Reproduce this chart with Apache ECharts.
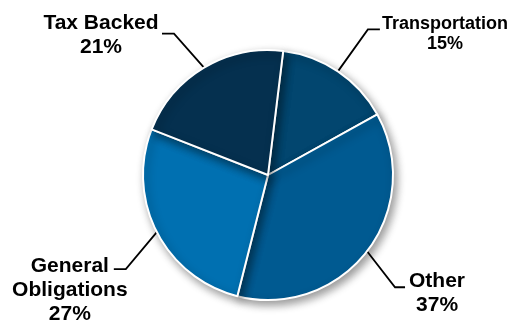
<!DOCTYPE html>
<html><head><meta charset="utf-8">
<script src="https://cdn.jsdelivr.net/npm/echarts@6/dist/echarts.min.js"></script>
<style>html,body{margin:0;padding:0;background:#fff}#c{width:512px;height:325px}</style>
</head><body><div id="c"></div>
<script>
const categories = ['Transportation', 'Other', 'General Obligations', 'Tax Backed'];
const labelNames = ['Transportation', 'Other', 'General\nObligations', 'Tax Backed'];
const values = [15, 37, 27, 21];
const colors = ['#02466f', '#005a91', '#0070b1', '#05304f'];

// per-label layout tweaks (leader-line vector, horizontal tail, label centre offset from tail end)
const lineVec = [[30, -42], [28, 36], [-31, 37], [-30, -34]];
const tailLen = [12, 10, 12, 12];
const labelOff = [[65, 5], [32, 6], [-44, 21], [-61, 2]];
const richKey = ['s', 'b', 'b', 'b'];

const chart = echarts.init(document.getElementById('c'), null, {renderer: 'canvas'});
chart.setOption({
  animation: false,
  backgroundColor: '#fff',
  series: [{
    type: 'pie',
    center: [268, 175],
    radius: 125,
    startAngle: 83,
    clockwise: true,
    avoidLabelOverlap: false,
    data: categories.map((c, i) => ({name: c, value: values[i], itemStyle: {color: colors[i]}})),
    itemStyle: {
      borderColor: '#fff',
      borderWidth: 2,
      shadowBlur: 8,
      shadowOffsetX: 3,
      shadowOffsetY: 4,
      shadowColor: 'rgba(0,0,0,0.4)'
    },
    label: {
      show: true,
      position: 'outside',
      formatter: function (p) {
        const k = richKey[p.dataIndex];
        const lines = labelNames[p.dataIndex].split('\n').concat([p.value + '%']);
        return lines.map(l => '{' + k + '|' + l + '}').join('\n');
      },
      rich: {
        s: {fontFamily: 'Liberation Sans, Arial, sans-serif', fontWeight: 'bold', fontSize: 18, lineHeight: 20, color: '#000', align: 'center'},
        b: {fontFamily: 'Liberation Sans, Arial, sans-serif', fontWeight: 'bold', fontSize: 21, lineHeight: 24, color: '#000', align: 'center'}
      }
    },
    labelLine: {
      show: true,
      length: 40,
      length2: 12,
      lineStyle: {color: '#000', width: 1.8}
    },
    labelLayout: function (params) {
      const i = params.dataIndex;
      const p0 = params.labelLinePoints[0];
      const elbow = [p0[0] + lineVec[i][0], p0[1] + lineVec[i][1]];
      const sx = lineVec[i][0] > 0 ? 1 : -1;
      const end = [elbow[0] + sx * tailLen[i], elbow[1]];
      return {
        x: end[0] + labelOff[i][0],
        y: end[1] + labelOff[i][1],
        align: 'center',
        verticalAlign: 'middle',
        labelLinePoints: [p0, elbow, end]
      };
    }
  }]
});
</script>
</body></html>
